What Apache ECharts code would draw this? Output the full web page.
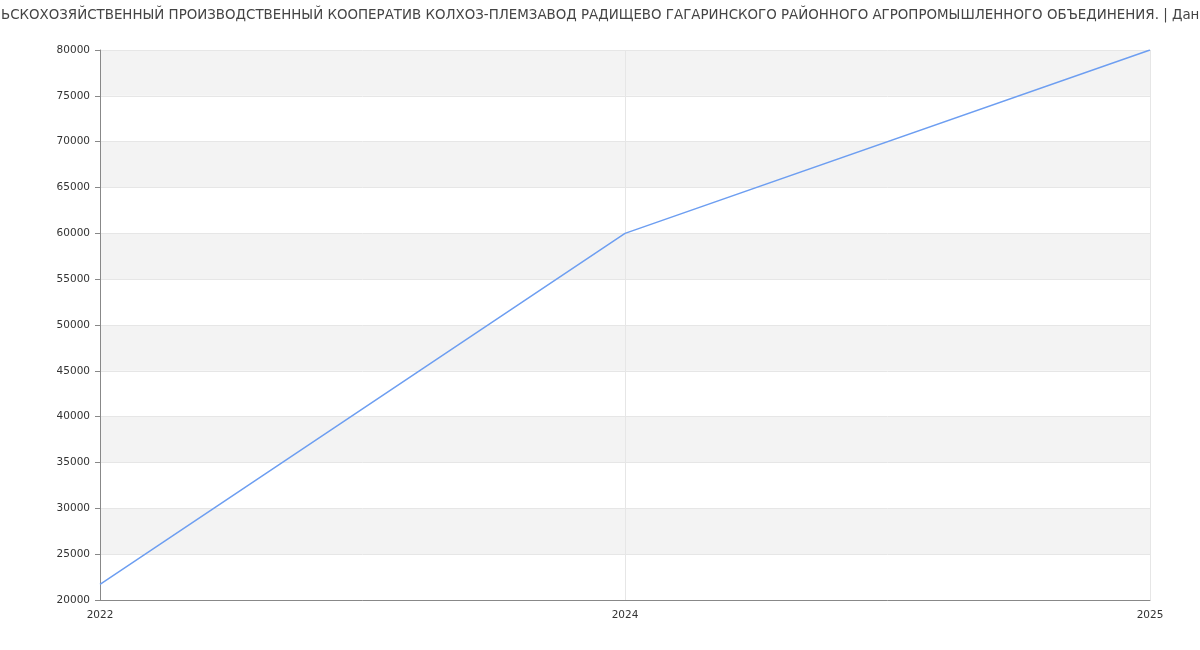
<!DOCTYPE html>
<html>
<head>
<meta charset="utf-8">
<script src="https://cdn.jsdelivr.net/npm/echarts@6/dist/echarts.min.js"></script>
<style>
  html, body { margin: 0; padding: 0; background: #fff; }
  #chart { width: 1200px; height: 650px; }
</style>
</head>
<body>
<div id="chart"></div>
<script>
// chart data
const titleText = 'СЕЛЬСКОХОЗЯЙСТВЕННЫЙ ПРОИЗВОДСТВЕННЫЙ КООПЕРАТИВ КОЛХОЗ-ПЛЕМЗАВОД РАДИЩЕВО ГАГАРИНСКОГО РАЙОННОГО АГРОПРОМЫШЛЕННОГО ОБЪЕДИНЕНИЯ. | Данные';
const years = ['2022', '2024', '2025'];
const values = [21700, 60000, 80000];

const chart = echarts.init(document.getElementById('chart'));

chart.setOption({
  animation: false,
  title: {
    text: titleText,
    left: 'center',
    top: 4,
    textStyle: {
      fontFamily: 'DejaVu Sans',
      fontSize: 13.4,
      fontWeight: 'normal',
      color: '#444'
    }
  },
  grid: {
    left: 100,
    right: 50,
    top: 50,
    bottom: 50,
    containLabel: false
  },
  xAxis: {
    type: 'category',
    data: years,
    boundaryGap: false,
    axisLine: { lineStyle: { color: '#888' } },
    axisTick: { show: false },
    axisLabel: {
      color: '#333',
      fontFamily: 'DejaVu Sans',
      fontSize: 10.5,
      margin: 10
    },
    splitLine: { show: true, lineStyle: { color: '#e6e6e6' } }
  },
  yAxis: {
    type: 'value',
    min: 20000,
    max: 80000,
    interval: 5000,
    axisLine: { show: true, lineStyle: { color: '#888' } },
    axisTick: { show: true, length: 5, lineStyle: { color: '#888' } },
    axisLabel: {
      color: '#333',
      fontFamily: 'DejaVu Sans',
      fontSize: 10.5,
      margin: 10,
      formatter: v => String(v)
    },
    splitLine: { show: true, lineStyle: { color: '#e6e6e6' } },
    splitArea: {
      show: true,
      areaStyle: { color: ['#ffffff', '#f3f3f3'] }
    }
  },
  series: [
    {
      type: 'line',
      data: values,
      showSymbol: false,
      symbol: 'none',
      lineStyle: { color: '#6d9ef1', width: 1.5 }
    }
  ]
});
</script>
</body>
</html>
